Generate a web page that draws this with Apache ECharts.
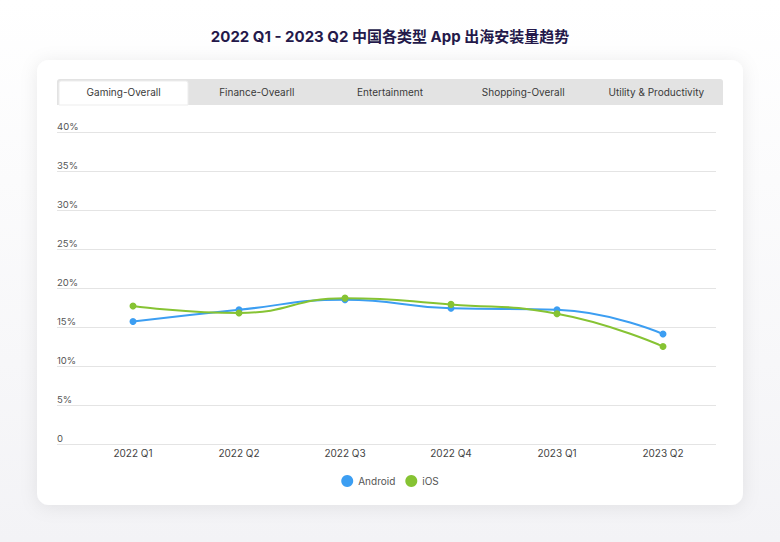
<!DOCTYPE html>
<html><head><meta charset="utf-8">
<script src="https://cdn.jsdelivr.net/npm/echarts@6/dist/echarts.min.js"></script>
<style>html,body{margin:0;padding:0;background:#f7f7f9;}#c{width:780px;height:542px;}</style>
</head><body><div id="c"></div>
<script>
const titleText = '2022 Q1 - 2023 Q2 中国各类型 App 出海安装量趋势';
const categories = ['2022 Q1','2022 Q2','2022 Q3','2022 Q4','2023 Q1','2023 Q2'];
const tabs = ['Gaming-Overall','Finance-Ovearll','Entertainment','Shopping-Overall','Utility & Productivity'];
const androidValues = [15.7, 17.2, 18.5, 17.4, 17.2, 14.1];
const iosValues = [17.7, 16.8, 18.7, 17.9, 16.7, 12.5];
const yTicks = [0,5,10,15,20,25,30,35,40];

const FONT = 'Inter, "Noto Sans CJK SC", sans-serif';
const chart = echarts.init(document.getElementById('c'), null, {renderer:'svg'});

const graphics = [
  {type:'rect', shape:{x:0,y:0,width:780,height:542}, style:{fill:{type:'linear',x:0,y:0,x2:0,y2:1,colorStops:[{offset:0,color:'#ffffff'},{offset:1,color:'#f3f3f6'}]}}, z:-20},
  {type:'rect', shape:{x:37,y:60,width:706,height:445,r:12}, style:{fill:'#ffffff', shadowBlur:18, shadowColor:'rgba(0,0,0,0.08)', shadowOffsetY:2}, z:-10},
  {type:'rect', shape:{x:57,y:79,width:666,height:26,r:[3,3,0,0]}, style:{fill:'#e3e3e3'}, z:-5},
  {type:'rect', shape:{x:59,y:81,width:129,height:24,r:[2,2,0,0]}, style:{fill:'#ffffff', stroke:'#ededed', lineWidth:1}, z:-4}
];
tabs.forEach((t,i)=>{
  graphics.push({type:'text', x:57+133.2*i+66.6, y:92, style:{text:t, fill:'#3a3a3a', font:'10px '+FONT, align:'center', verticalAlign:'middle'}, z:5});
});

chart.setOption({
  title:{text:titleText, left:'center', top:24, textStyle:{fontFamily:FONT, fontSize:15, fontWeight:'bold', color:'#24194a'}},
  graphic: graphics,
  grid:[
    {left:57, right:64, top:132, bottom:98},
    {left:80, right:64, top:132, bottom:98}
  ],
  xAxis:[
    {gridIndex:0, type:'category', data:categories, show:false},
    {gridIndex:1, type:'category', data:categories, boundaryGap:true,
     axisLine:{show:false}, axisTick:{show:false},
     axisLabel:{color:'#444', fontSize:10, fontFamily:FONT, margin:4}}
  ],
  yAxis:[
    {gridIndex:0, type:'value', min:0, max:40, interval:5,
     axisLine:{show:false}, axisTick:{show:false},
     splitLine:{lineStyle:{color:'#e4e4e4', width:1}},
     axisLabel:{inside:true, verticalAlign:'bottom', margin:0, padding:[0,0,1,0], color:'#555', fontSize:9.5, fontFamily:FONT,
       formatter:v=> v===0 ? '0' : v+'%'}},
    {gridIndex:1, type:'value', min:0, max:40, interval:5, show:false, splitLine:{show:false}}
  ],
  legend:{bottom:50, left:'center', icon:'circle', itemWidth:12, itemHeight:12, itemGap:10,
    textStyle:{color:'#555', fontSize:10, fontFamily:FONT}, data:['Android','iOS']},
  series:[
    {name:'Android', type:'line', xAxisIndex:1, yAxisIndex:1, data:androidValues, smooth:true,
     symbol:'circle', symbolSize:7, showSymbol:true, color:'#3c9ef2', lineStyle:{width:2}},
    {name:'iOS', type:'line', xAxisIndex:1, yAxisIndex:1, data:iosValues, smooth:true,
     symbol:'circle', symbolSize:7, showSymbol:true, color:'#86c333', lineStyle:{width:2}}
  ]
});
</script></body></html>
